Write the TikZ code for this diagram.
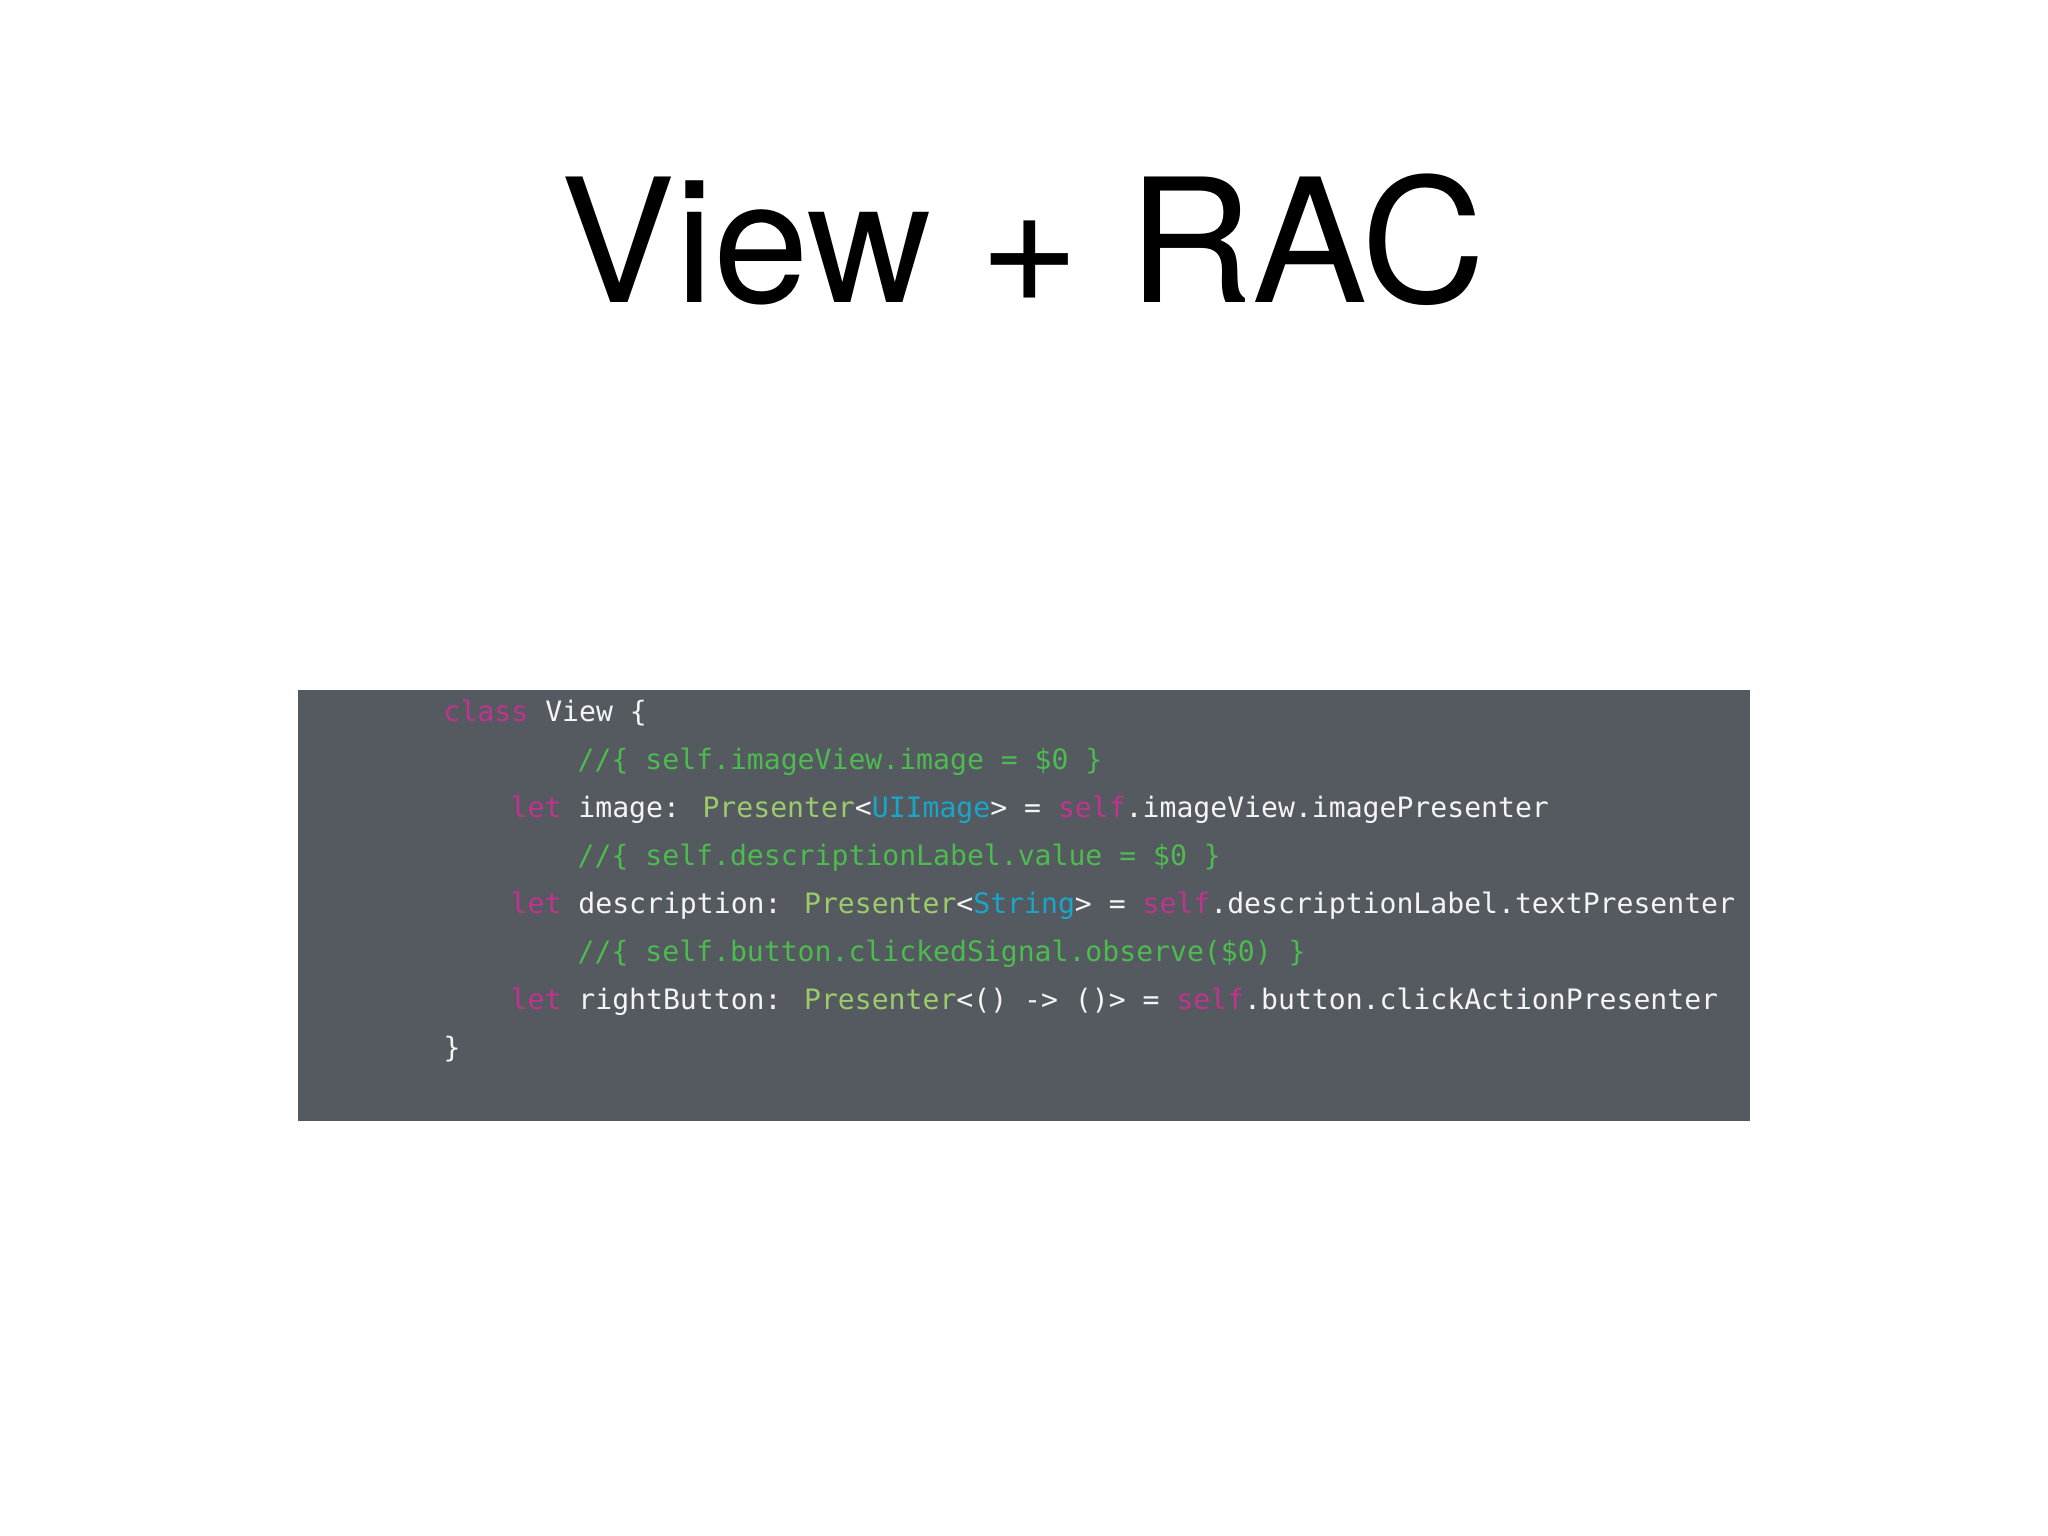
\documentclass[tikz,border=0pt]{standalone}
\usepackage{fontspec}
\setmainfont{TeX Gyre Heros}
\newfontfamily\codefont{DejaVu Sans Mono}
\definecolor{bg}{HTML}{555960}
\definecolor{kw}{HTML}{C0348E}
\definecolor{cm}{HTML}{4DBB4F}
\definecolor{ty}{HTML}{9BCB6A}
\definecolor{cy}{HTML}{1AA6C8}
\definecolor{tx}{HTML}{F4F4F4}
\newcommand{\K}[1]{\textcolor{kw}{#1}}
\newcommand{\C}[1]{\textcolor{cm}{#1}}
\newcommand{\T}[1]{\textcolor{ty}{#1}}
\newcommand{\Y}[1]{\textcolor{cy}{#1}}
\begin{document}
\begin{tikzpicture}[x=1cm,y=1cm,
  codeline/.style={anchor=base west,inner sep=0pt,text=tx,font=\codefont\fontsize{8pt}{9pt}\selectfont}]
\useasboundingbox (0,0) rectangle (20.48,15.36);
\fill[white] (0,0) rectangle (20.48,15.36);
\node[anchor=base,inner sep=0pt,font=\fontsize{49pt}{55pt}\selectfont] (title) at (10.23,12.33) {View + RAC};
\fill[bg] (2.98,4.15) rectangle (17.50,8.46);
\node[codeline] (l1) at (4.43,8.14) {\K{class} View \{};
\node[codeline] (l2) at (5.77,7.66) {\C{//\{ self.imageView.image = \$0 \}}};
\node[codeline] (l3) at (5.10,7.18) {\K{let} image: \T{Presenter}<\Y{UIImage}> = \K{self}.imageView.imagePresenter};
\node[codeline] (l4) at (5.77,6.70) {\C{//\{ self.descriptionLabel.value = \$0 \}}};
\node[codeline] (l5) at (5.10,6.22) {\K{let} description: \T{Presenter}<\Y{String}> = \K{self}.descriptionLabel.textPresenter};
\node[codeline] (l6) at (5.77,5.74) {\C{//\{ self.button.clickedSignal.observe(\$0) \}}};
\node[codeline] (l7) at (5.10,5.26) {\K{let} rightButton: \T{Presenter}<() -> ()> = \K{self}.button.clickActionPresenter};
\node[codeline] (l8) at (4.43,4.78) {\}};
\end{tikzpicture}
\end{document}
